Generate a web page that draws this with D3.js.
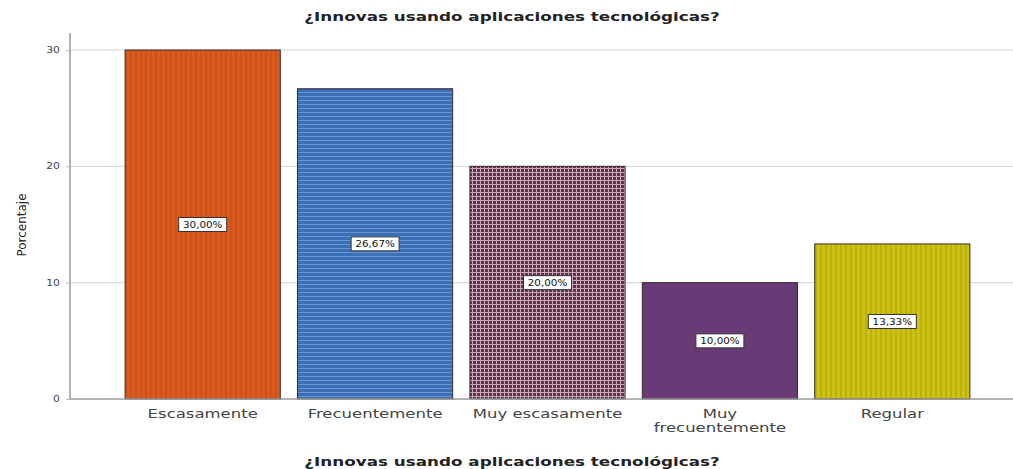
<!DOCTYPE html>
<html>
<head>
<meta charset="utf-8">
<script src="https://cdn.jsdelivr.net/npm/d3@7"></script>
<style>
  body { margin: 0; background: #fff; }
  svg { display: block; font-family: "DejaVu Sans", Verdana, sans-serif; }
</style>
</head>
<body>
<svg id="chart" width="1013" height="469"></svg>
<script>
const categories = ["Escasamente", "Frecuentemente", "Muy escasamente", "Muy frecuentemente", "Regular"];
const categoryLines = [["Escasamente"], ["Frecuentemente"], ["Muy escasamente"], ["Muy", "frecuentemente"], ["Regular"]];
const values = [30.00, 26.67, 20.00, 10.00, 13.33];
const valueLabels = ["30,00%", "26,67%", "20,00%", "10,00%", "13,33%"];
const yTicks = [0, 10, 20, 30];
const title = "¿Innovas usando aplicaciones tecnológicas?";
const yTitle = "Porcentaje";

const colors = ["#d9581f", "#3a6db4", "#6b4257", "#683a76", "#c8bf0f"];

const svg = d3.select("#chart");
const defs = svg.append("defs");

function stripesV(id, base, line, w, lw) {
  const p = defs.append("pattern").attr("id", id).attr("patternUnits", "userSpaceOnUse")
    .attr("width", w).attr("height", w);
  p.append("rect").attr("width", w).attr("height", w).attr("fill", base);
  p.append("rect").attr("x", 0).attr("width", lw).attr("height", w).attr("fill", line);
}
function stripesH(id, base, line, w, lw) {
  const p = defs.append("pattern").attr("id", id).attr("patternUnits", "userSpaceOnUse")
    .attr("width", w).attr("height", w);
  p.append("rect").attr("width", w).attr("height", w).attr("fill", base);
  p.append("rect").attr("y", 0).attr("width", w).attr("height", lw).attr("fill", line);
}
function grid(id, base, line, w, lw) {
  const p = defs.append("pattern").attr("id", id).attr("patternUnits", "userSpaceOnUse")
    .attr("width", w).attr("height", w);
  p.append("rect").attr("width", w).attr("height", w).attr("fill", base);
  p.append("rect").attr("width", lw).attr("height", w).attr("fill", line);
  p.append("rect").attr("width", w).attr("height", lw).attr("fill", line);
}
stripesV("p0", "#db5a20", "#cc521a", 5, 2);
stripesH("p1", "#3b6fb6", "#6a95d0", 4, 1);
grid("p2", "#5e3349", "#c8a8b8", 4, 1);
stripesV("p4", "#cbc212", "#bbb10a", 5, 2);
const fills = ["url(#p0)", "url(#p1)", "url(#p2)", colors[3], "url(#p4)"];

const x0 = 70, x1 = 1013, yTop = 50, yBot = 399;
const sx = 1.25; // horizontal stretch of the reference's text

const x = d3.scaleBand().domain(categories).range([116.5, 978.5]).paddingInner(0.1).paddingOuter(0.05);
const y = d3.scaleLinear().domain([0, 30]).range([yBot, yTop]);

function stretchedText(parent, cx, cy, str, size, opts = {}) {
  const g = parent.append("g").attr("transform", `translate(${cx},${cy}) scale(${opts.sx || sx},1)`);
  return g.append("text").attr("text-anchor", opts.anchor || "middle")
    .attr("font-size", size).attr("font-weight", opts.weight || "normal")
    .attr("fill", opts.fill || "#222").attr("dy", opts.dy || 0).text(str);
}

// gridlines
svg.append("g").selectAll("line").data(yTicks.filter(d => d > 0)).join("line")
  .attr("x1", x0).attr("x2", x1)
  .attr("y1", d => y(d)).attr("y2", d => y(d))
  .attr("stroke", "#d4d4d4").attr("stroke-width", 1);

// y axis
const yAxis = svg.append("g").attr("transform", `translate(${x0},0)`)
  .call(d3.axisLeft(y).tickValues(yTicks).tickSize(4).tickFormat(() => ""));
yAxis.select(".domain").attr("d", `M0,${yBot}V33`).attr("stroke", "#9a9a9a").attr("stroke-width", 1.5);
yAxis.selectAll(".tick line").attr("stroke", "#bbb");
const tickG = svg.append("g");
yTicks.forEach(t => stretchedText(tickG, 60, y(t), String(t), 9, { anchor: "end", dy: "0.35em", fill: "#444", sx: 1.2 }));

// bars
svg.append("g").selectAll("rect").data(values).join("rect")
  .attr("x", (d, i) => x(categories[i]))
  .attr("y", d => y(d))
  .attr("width", x.bandwidth())
  .attr("height", d => y(0) - y(d))
  .attr("fill", (d, i) => fills[i])
  .attr("stroke", "#3a2a2a").attr("stroke-width", 1);

// x axis line
svg.append("line").attr("x1", x0).attr("x2", x1).attr("y1", yBot).attr("y2", yBot)
  .attr("stroke", "#9a9a9a").attr("stroke-width", 1.5);

// value labels
const labG = svg.append("g");
values.forEach((d, i) => {
  const cx = x(categories[i]) + x.bandwidth() / 2;
  const cy = (y(d) + y(0)) / 2;
  labG.append("rect").attr("x", cx - 24).attr("y", cy - 7).attr("width", 48).attr("height", 14)
    .attr("fill", "#fff").attr("stroke", "#333").attr("stroke-width", 1);
  stretchedText(labG, cx, cy, valueLabels[i], 9, { dy: "0.35em", fill: "#111", sx: 1.15 });
});

// category labels
const catG = svg.append("g");
categories.forEach((c, i) => {
  const cx = x(c) + x.bandwidth() / 2;
  categoryLines[i].forEach((line, j) => {
    stretchedText(catG, cx, 418 + j * 14, line, 13, { fill: "#444", sx: 1.27 });
  });
});

// titles
stretchedText(svg, 512, 21, title, 12, { weight: "bold", fill: "#222", sx: 1.4 });
stretchedText(svg, 512, 466, title, 12, { weight: "bold", fill: "#222", sx: 1.4 });
svg.append("text").attr("transform", "translate(26,225) rotate(-90)").attr("text-anchor", "middle")
  .attr("font-size", 12).attr("fill", "#222").text(yTitle);
</script>
</body>
</html>
